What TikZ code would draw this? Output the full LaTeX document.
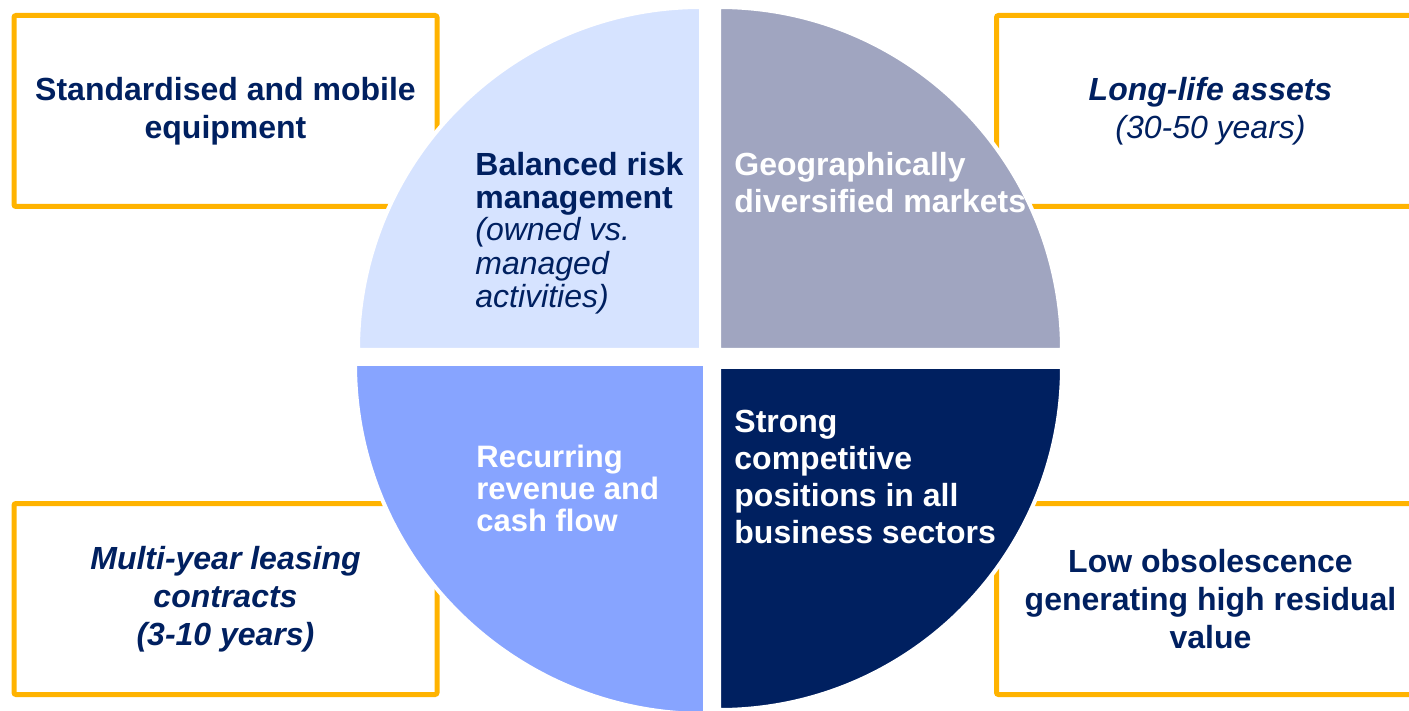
\documentclass[tikz,border=0pt]{standalone}
\usepackage{fontspec}
\setmainfont{Liberation Sans}
\usepackage{xcolor}
\definecolor{navy}{HTML}{002060}
\definecolor{amber}{HTML}{FFB300}
\definecolor{paleblue}{HTML}{D6E3FF}
\definecolor{greyblue}{HTML}{A0A5C0}
\definecolor{midblue}{HTML}{87A4FF}

\begin{document}
\begin{tikzpicture}[x=0.5pt,y=-0.5pt,
    featbox/.style={draw=amber,line width=2.5pt,rounded corners=1pt,fill=white,minimum height=95.5pt,align=center,text=navy,font=\fontsize{16}{19}\selectfont\bfseries},
    quarter/.style={draw=white,line width=2pt},
    qtext/.style 2 args={anchor=base west,align=left,inner sep=0pt,font=\fontsize{#1}{#2}\selectfont\bfseries}]
    \clip (0,0) rectangle (1409,711);

    % feature boxes
    \node (equip) at (225.5,111) [featbox,minimum width=211.5pt] {Standardised and mobile\\equipment};
    \node (assets) at (1210.5,111) [featbox,minimum width=214pt] {\textit{Long-life assets}\\\textit{\mdseries(30-50 years)}};
    \node (leasing) at (225.5,599) [featbox,minimum width=211.5pt] {\textit{Multi-year leasing}\\\textit{contracts}\\\textit{(3-10 years)}};
    \node (residual) at (1210.5,599) [featbox,minimum width=214pt] {Low obsolescence\\generating high residual\\value};

    % quarters of the circle
    \path[quarter,fill=paleblue] (701,350) -- (358,350) arc[start angle=180,end angle=270,radius=343] -- cycle;
    \path[quarter,fill=greyblue] (719,350) -- (719,7) arc[start angle=270,end angle=360,radius=343] -- cycle;
    \path[quarter,fill=midblue] (705,364) -- (705,714) arc[start angle=90,end angle=180,radius=350] -- cycle;
    \path[quarter,fill=navy] (719,367) -- (1062,367) arc[start angle=0,end angle=90,radius=343] -- cycle;

    % texts sit on the baseline of their last line
    \node (risk) at (475,307) [qtext={16}{16.5},text=navy] {Balanced risk\\management\\\textit{\mdseries(owned vs.}\\\textit{\mdseries managed}\\\textit{\mdseries activities)}};
    \node (markets) at (734,213) [qtext={16}{18.5},text=white] {Geographically\\diversified markets};
    \node (revenue) at (476,531) [qtext={15.5}{16},text=white] {Recurring\\revenue and\\cash flow};
    \node (sectors) at (734,543) [qtext={16}{18.5},text=white] {Strong\\competitive\\positions in all\\business sectors};
\end{tikzpicture}
\end{document}
